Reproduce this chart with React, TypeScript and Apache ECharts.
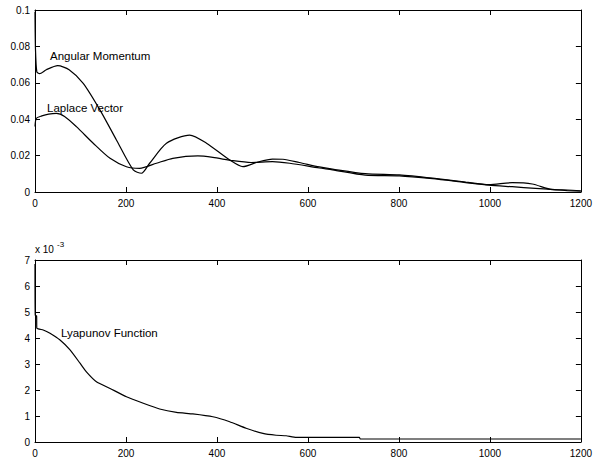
import React, { useEffect, useRef } from "react";
import * as echarts from "echarts";

const xTicks = [0, 200, 400, 600, 800, 1000, 1200];

const amX = [0, 1, 4, 10, 25, 50, 75, 106, 143, 179, 216, 234, 252, 289, 340, 377, 428, 457, 490, 522, 545, 581, 625, 654, 726, 801, 874, 947, 998, 1049, 1093, 1137, 1170, 1200];
const amY = [0.099, 0.079, 0.066, 0.065, 0.0672, 0.0694, 0.0672, 0.0597, 0.045, 0.0286, 0.0121, 0.0103, 0.0158, 0.0268, 0.0313, 0.0268, 0.0176, 0.0139, 0.0165, 0.0181, 0.018, 0.0162, 0.0138, 0.0126, 0.0101, 0.0094, 0.0076, 0.0054, 0.004, 0.0051, 0.0044, 0.0013, 0.0011, 0.0007];

const lvX = [0, 3, 15, 30, 47, 65, 91, 128, 165, 201, 230, 267, 303, 358, 391, 435, 475, 522, 560, 625, 654, 726, 801, 874, 947, 998, 1049, 1100, 1137, 1170, 1200];
const lvY = [0.036, 0.0405, 0.0418, 0.0428, 0.0432, 0.0415, 0.0359, 0.0268, 0.0185, 0.0139, 0.013, 0.0158, 0.0185, 0.0198, 0.019, 0.0172, 0.0162, 0.0167, 0.0158, 0.0132, 0.0122, 0.0093, 0.0089, 0.0073, 0.0052, 0.0038, 0.0029, 0.002, 0.0014, 0.0008, 0.0004];

// Lyapunov function, in units of 10^-3
const lyX = [0, 0.5, 3.5, 4, 18, 33, 55, 77, 99, 113, 135, 165, 201, 238, 274, 311, 347, 391, 428, 464, 501, 530, 552, 574, 713, 715, 1200];
const lyY = [6.85, 4.88, 4.85, 4.38, 4.31, 4.18, 3.92, 3.54, 3.03, 2.7, 2.32, 2.06, 1.74, 1.49, 1.27, 1.14, 1.08, 0.97, 0.78, 0.53, 0.33, 0.26, 0.24, 0.18, 0.18, 0.115, 0.115];

const topTicks = ["0", "0.02", "0.04", "0.06", "0.08", "0.1"];
const bottomTicks = ["0", "1", "2", "3", "4", "5", "6", "7"];

const FONT = "Liberation Sans";

function zip(xs: number[], ys: number[]) {
  return xs.map((x, i) => [x, ys[i]]);
}

export default function App() {
  const ref = useRef<HTMLDivElement>(null);
  useEffect(() => {
    if (!ref.current) return;
    const chart = echarts.init(ref.current, undefined, { renderer: "svg" });
    const axisLine = { show: true, onZero: false, lineStyle: { color: "#000", width: 1 } };
    const tick = { show: true, inside: true, length: 5, lineStyle: { color: "#000" } };
    const label = { color: "#000", fontSize: 10, fontFamily: FONT };
    const mkX = (grid: number, pos: "bottom" | "top") => ({
      type: "value",
      gridIndex: grid,
      position: pos,
      min: 0,
      max: 1200,
      interval: 200,
      axisLine,
      axisTick: tick,
      splitLine: { show: false },
      axisLabel: pos === "bottom" ? { ...label, margin: 6, formatter: (v: number) => String(xTicks[Math.round(v / 200)]) } : { show: false },
    });
    const mkY = (grid: number, pos: "left" | "right", max: number, interval: number, labels: string[]) => ({
      type: "value",
      gridIndex: grid,
      position: pos,
      min: 0,
      max,
      interval,
      axisLine,
      axisTick: tick,
      splitLine: { show: false },
      axisLabel: pos === "left" ? { ...label, margin: 5, formatter: (v: number) => labels[Math.round(v / interval)] } : { show: false },
    });
    const line = { color: "#000", width: 1.2 };
    chart.setOption({
      animation: false,
      backgroundColor: "#fff",
      grid: [
        { left: 35, width: 547, top: 10, height: 182 },
        { left: 35, width: 547, top: 260, height: 182 },
      ],
      xAxis: [mkX(0, "bottom"), mkX(0, "top"), mkX(1, "bottom"), mkX(1, "top")],
      yAxis: [
        mkY(0, "left", 0.1, 0.02, topTicks),
        mkY(0, "right", 0.1, 0.02, topTicks),
        mkY(1, "left", 7, 1, bottomTicks),
        mkY(1, "right", 7, 1, bottomTicks),
      ],
      series: [
        { name: "Angular Momentum", type: "line", xAxisIndex: 0, yAxisIndex: 0, data: zip(amX, amY), showSymbol: false, smooth: 0.25, lineStyle: line },
        { name: "Laplace Vector", type: "line", xAxisIndex: 0, yAxisIndex: 0, data: zip(lvX, lvY), showSymbol: false, smooth: 0.25, lineStyle: line },
        { name: "Lyapunov Function", type: "line", xAxisIndex: 2, yAxisIndex: 2, data: zip(lyX, lyY), showSymbol: false, smooth: 0.15, lineStyle: line },
      ],
      graphic: [
        { type: "text", left: 50, top: 50, style: { text: "Angular Momentum", fontSize: 11.5, fontFamily: FONT, fill: "#000" } },
        { type: "text", left: 47, top: 102, style: { text: "Laplace Vector", fontSize: 11.5, fontFamily: FONT, fill: "#000" } },
        { type: "text", left: 61, top: 327, style: { text: "Lyapunov Function", fontSize: 11.5, fontFamily: FONT, fill: "#000" } },
        { type: "text", left: 35, top: 244, style: { text: "x 10", fontSize: 10, fontFamily: FONT, fill: "#000" } },
        { type: "text", left: 57, top: 240, style: { text: "-3", fontSize: 8, fontFamily: FONT, fill: "#000" } },
      ],
    });
    return () => chart.dispose();
  }, []);
  return <div ref={ref} style={{ position: "absolute", left: 0, top: 0, width: 595, height: 464, background: "#fff" }} />;
}
